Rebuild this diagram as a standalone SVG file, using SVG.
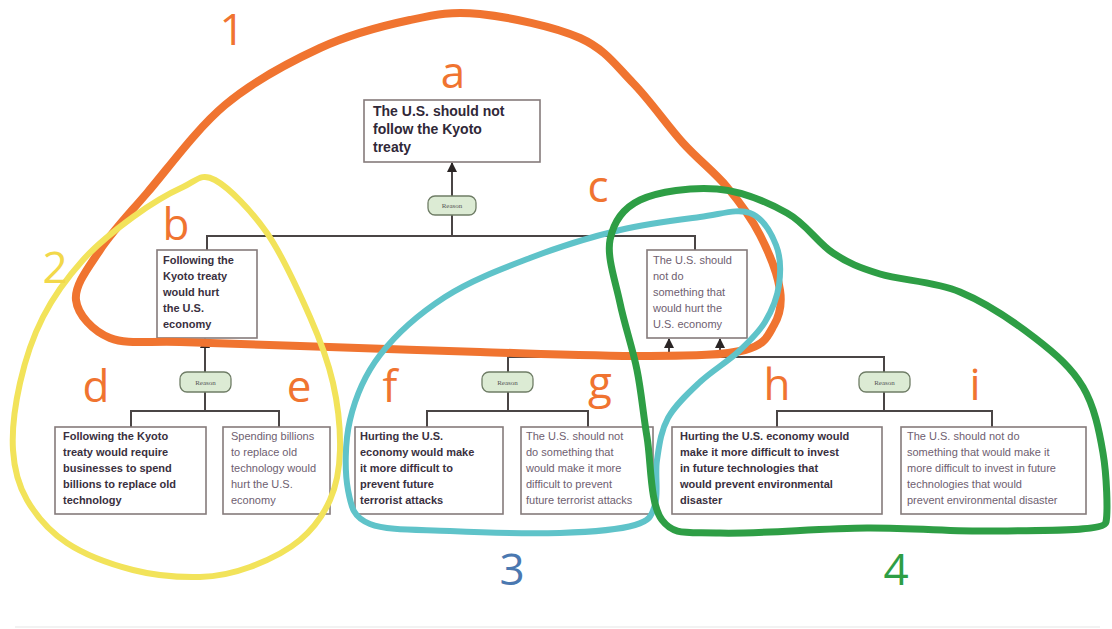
<svg xmlns="http://www.w3.org/2000/svg" width="1112" height="629" viewBox="0 0 1112 629">
<defs>
<style>
.box{fill:#fff;stroke:#857b7b;stroke-width:1.6}
.pill{fill:#dcebd4;stroke:#6f7d66;stroke-width:1.3}
.pt{font-family:"Liberation Serif",serif;font-size:7px;fill:#555;text-anchor:middle}
.tb{font-family:"Liberation Sans",Arial,sans-serif;font-size:11px;font-weight:bold;fill:#3a3040}
.tn{font-family:"Liberation Sans",Arial,sans-serif;font-size:11px;fill:#6e6070}
.tt{font-family:"Liberation Sans",Arial,sans-serif;font-size:14px;font-weight:bold;fill:#302838}
.con{fill:none;stroke:#4a4545;stroke-width:2}
.hand{font-family:"Open Sans","Noto Sans",sans-serif;font-size:44px;text-anchor:middle}
.loop{fill:none;stroke-linecap:round;stroke-linejoin:round}
</style>
<marker id="arr" viewBox="0 0 10 10" refX="9" refY="5" markerWidth="5" markerHeight="5" orient="auto">
<path d="M0,0 L10,5 L0,10 z" fill="#2a2525"/>
</marker>
</defs>
<rect width="1112" height="629" fill="#fff"/>
<line x1="15" y1="627" x2="1100" y2="627" stroke="#f2f2f2" stroke-width="2"/>

<g id="connectors">
<path class="con" d="M452,196 L452,163" marker-end="url(#arr)"/>
<path class="con" d="M452,215 L452,236 M207,236 L695,236 M207,235 L207,250 M695,235 L695,250"/>
<path class="con" d="M205,372 L205,339" marker-end="url(#arr)"/>
<path class="con" d="M205,392 L205,411 M131,411 L279,411 M131,410 L131,427 M279,410 L279,427"/>
<path class="con" d="M508,372 L508,357 L669,357 L669,339" marker-end="url(#arr)"/>
<path class="con" d="M508,392 L508,411 M427,411 L588,411 M427,410 L427,427 M588,410 L588,427"/>
<path class="con" d="M884,372 L884,357 L720,357 L720,339" marker-end="url(#arr)"/>
<path class="con" d="M884,392 L884,411 M777,411 L992,411 M777,410 L777,427 M992,410 L992,427"/>
</g>

<g id="node-a">
<rect class="box" x="364" y="100" width="176" height="62"/>
<text class="tt"><tspan x="373" y="116">The U.S. should not</tspan><tspan x="373" y="134">follow the Kyoto</tspan><tspan x="373" y="152">treaty</tspan></text>
</g>
<g id="reason-a">
<rect class="pill" x="428" y="196" width="48" height="19" rx="7"/>
<text class="pt" x="452" y="208">Reason</text>
</g>
<g id="node-b">
<rect class="box" x="157" y="250" width="100" height="88"/>
<text class="tb"><tspan x="163" y="264">Following the</tspan><tspan x="163" y="280">Kyoto treaty</tspan><tspan x="163" y="296">would hurt</tspan><tspan x="163" y="312">the U.S.</tspan><tspan x="163" y="328">economy</tspan></text>
</g>
<g id="node-c">
<rect class="box" x="647" y="250" width="100" height="88"/>
<text class="tn"><tspan x="653" y="264">The U.S. should</tspan><tspan x="653" y="280">not do</tspan><tspan x="653" y="296">something that</tspan><tspan x="653" y="312">would hurt the</tspan><tspan x="653" y="328">U.S. economy</tspan></text>
</g>
<g id="reason-de">
<rect class="pill" x="180" y="372" width="51" height="20" rx="7"/>
<text class="pt" x="205.5" y="384.5">Reason</text>
</g>
<g id="reason-fg">
<rect class="pill" x="482" y="372" width="51" height="20" rx="7"/>
<text class="pt" x="507.5" y="384.5">Reason</text>
</g>
<g id="reason-hi">
<rect class="pill" x="859" y="372" width="51" height="20" rx="7"/>
<text class="pt" x="884.5" y="384.5">Reason</text>
</g>
<g id="node-d">
<rect class="box" x="55" y="427" width="151" height="87"/>
<text class="tb"><tspan x="63" y="440">Following the Kyoto</tspan><tspan x="63" y="456">treaty would require</tspan><tspan x="63" y="472">businesses to spend</tspan><tspan x="63" y="488">billions to replace old</tspan><tspan x="63" y="504">technology</tspan></text>
</g>
<g id="node-e">
<rect class="box" x="223" y="427" width="107" height="87"/>
<text class="tn"><tspan x="231" y="440">Spending billions</tspan><tspan x="231" y="456">to replace old</tspan><tspan x="231" y="472">technology would</tspan><tspan x="231" y="488">hurt the U.S.</tspan><tspan x="231" y="504">economy</tspan></text>
</g>
<g id="node-f">
<rect class="box" x="355" y="427" width="148" height="87"/>
<text class="tb"><tspan x="360" y="440">Hurting the U.S.</tspan><tspan x="360" y="456">economy would make</tspan><tspan x="360" y="472">it more difficult to</tspan><tspan x="360" y="488">prevent future</tspan><tspan x="360" y="504">terrorist attacks</tspan></text>
</g>
<g id="node-g">
<rect class="box" x="521" y="427" width="132" height="87"/>
<text class="tn"><tspan x="526" y="440">The U.S. should not</tspan><tspan x="526" y="456">do something that</tspan><tspan x="526" y="472">would make it more</tspan><tspan x="526" y="488">difficult to prevent</tspan><tspan x="526" y="504">future terrorist attacks</tspan></text>
</g>
<g id="node-h">
<rect class="box" x="672" y="427" width="210" height="87"/>
<text class="tb"><tspan x="680" y="440">Hurting the U.S. economy would</tspan><tspan x="680" y="456">make it more difficult to invest</tspan><tspan x="680" y="472">in future technologies that</tspan><tspan x="680" y="488">would prevent environmental</tspan><tspan x="680" y="504">disaster</tspan></text>
</g>
<g id="node-i">
<rect class="box" x="901" y="427" width="185" height="87"/>
<text class="tn"><tspan x="907" y="440">The U.S. should not do</tspan><tspan x="907" y="456">something that would make it</tspan><tspan x="907" y="472">more difficult to invest in future</tspan><tspan x="907" y="488">technologies that would</tspan><tspan x="907" y="504">prevent environmental disaster</tspan></text>
</g>

<g id="annotations">
<path class="loop" stroke="#f07430" stroke-width="8" d="M110,338 C92.7,331 77.7,314.7 76,300 S88.2,267.8 100,250 S126.2,217.2 147,193 S196.2,129.2 225,105 S289.2,62.2 320,48 S383.3,25.7 410,20 S451.7,11 480,14 S554.5,26.5 580,38 S615.8,65.5 633,83 S667.3,125.7 683,143 S714.2,171.7 727,187 S751.2,217.8 760,235 S777.7,275 780,290 S779.8,315 774,325 S765.7,344.8 745,350 S694.2,355.7 650,356 S538.3,353.7 480,352 S350,347.7 300,346 S211.7,343.3 180,342 S127.3,345 110,338 Z"/>
<path class="loop" stroke="#f2e35a" stroke-width="6" d="M215,180 C229,187.7 251.2,210.2 267,233 S299,292 310,317 S328,360.8 333,383 S340.5,430.5 340,450 S336.7,485 330,500 S313.3,528.8 300,540 S266.7,560.8 250,567 S219.5,576.5 200,577 S155.2,575.7 133,570 S84.7,554.7 67,543 S36,515.5 27,500 S14.2,469.5 13,450 S15,405.2 20,383 S32.5,337.5 43,317 S68,276.7 83,260 S116.3,229.2 133,217 S169.3,193.2 183,187 S201,172.3 215,180 Z"/>
<path class="loop" stroke="#5fc3c9" stroke-width="6" d="M700,217 C721.7,214.2 737.3,208.3 750,213 S771.2,233 776,245 S780.8,272.2 779,285 S771.8,310.8 765,322 S748.8,342 738,352 S711.7,371 700,382 S675.2,405 668,418 S659.2,445.5 657,460 S658.7,494.2 655,505 S650.8,520.3 635,525 S590.8,532 560,533 S481.7,532.5 450,531 S387,530.8 370,524 S351.3,507.3 348,490 S344.7,442.5 350,420 S364.2,375.5 380,355 S420,313.2 445,297 S500.8,269.2 530,258 S591.7,236.8 620,230 S678.3,219.8 700,217 Z"/>
<path class="loop" stroke="#2e9e45" stroke-width="7" d="M717,189 C741.5,191.2 767.7,202.3 787,213 S817.5,242.8 833,253 S858.8,267.5 880,274 S934.2,281.3 960,292 S1014.5,322.2 1035,338 S1071.7,367.8 1083,387 S1099.2,430.5 1103,453 S1108,512 1106,522 S1039.8,530 1000,531 S913.7,527.7 867,528 S754.2,534.3 720,533 S674.2,536 662,520 S651.2,462 647,437 S641.5,392.3 637,370 S624.5,324.7 620,303 S606.7,257.2 610,240 S622.2,208.5 640,200 S692.5,186.8 717,189 Z"/>
<text class="hand" fill="#f07430" x="232" y="45">1</text>
<text class="hand" fill="#f07430" x="453" y="88">a</text>
<text class="hand" fill="#f07430" x="176" y="240">b</text>
<text class="hand" fill="#f07430" x="598" y="202">c</text>
<text class="hand" fill="#f2d84a" x="55" y="283">2</text>
<text class="hand" fill="#f07430" x="96" y="402">d</text>
<text class="hand" fill="#f07430" x="299" y="402">e</text>
<text class="hand" fill="#f07430" x="390" y="402">f</text>
<text class="hand" fill="#f07430" x="600" y="398">g</text>
<text class="hand" fill="#f07430" x="777" y="400">h</text>
<text class="hand" fill="#f07430" x="975" y="400">i</text>
<text class="hand" fill="#4a78b0" x="512" y="585">3</text>
<text class="hand" fill="#2e9e45" x="896" y="585">4</text>
</g>
</svg>
